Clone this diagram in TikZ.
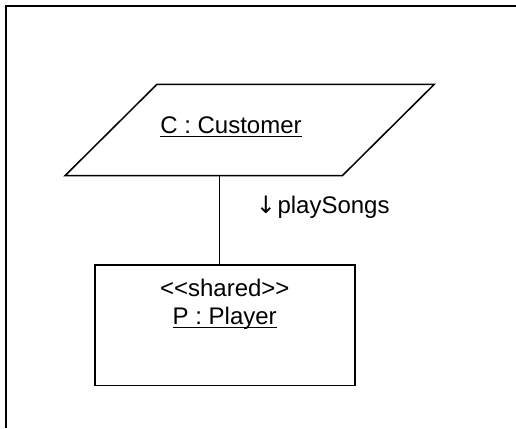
\documentclass[tikz,border=0pt]{standalone}
\usepackage{fontspec}
\setmainfont{Liberation Sans}
\newfontfamily\arrowfont{DejaVu Sans}
\newcommand{\myul}[1]{\setbox0\hbox{#1}\rlap{\rule[-3.6pt]{\wd0}{1.4pt}}\box0}
\tikzset{
  shapeline/.style={draw=black, line width=1.5pt},
  lbl/.style={font=\fontsize{24}{28}\selectfont, inner sep=0pt, text=black},
}
\begin{document}
\begin{tikzpicture}[x=1pt,y=-1pt]
\useasboundingbox (0,0) rectangle (516,428);
% frame (top and left edges)
\draw[line width=2.2pt] (6,428) -- (6,6) -- (516,6);
% parallelogram object C
\coordinate (ctl) at (157,84.3);
\coordinate (ctr) at (434.3,84.3);
\coordinate (cbr) at (342.3,175.7);
\coordinate (cbl) at (65,175.7);
\draw[shapeline, line join=miter] (ctl) -- (ctr) -- (cbr) -- (cbl) -- cycle;
\node[lbl, anchor=base] (ctext) at (231,133.5) {\myul{C : Customer}};
% rectangle object P
\node[shapeline, rectangle, minimum width=260pt, minimum height=120.7pt, inner sep=0pt] (P) at (225,325.35) {};
\node[lbl, anchor=base] (pster) at (224.8,296.7) {{<}{<}shared{>}{>}};
\node[lbl, anchor=base] (pname) at (224.7,324.3) {\myul{P : Player}};
% connector
\coordinate (cbot) at (219.7,175.7);
\draw[shapeline] (cbot) -- (cbot |- P.north);
\node[lbl, anchor=base west] (msg) at (255.7,213.5) {{\arrowfont ↓}\hspace{1.5pt}playSongs};
\end{tikzpicture}
\end{document}
